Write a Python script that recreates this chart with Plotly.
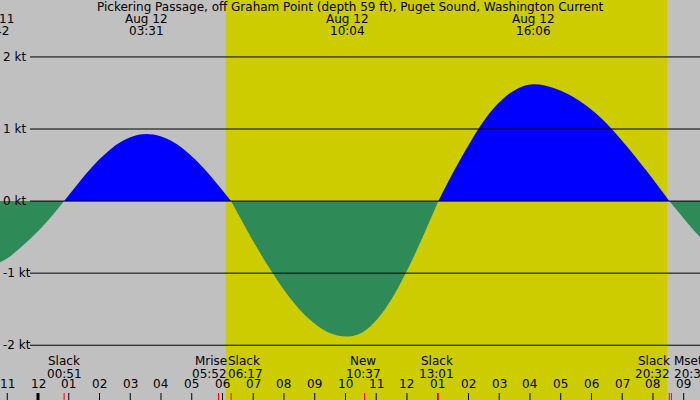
import plotly.graph_objects as go

# current curve, hours since midnight Aug 12 vs knots
ebb1_t = [-3.0, -2.4, -1.24, -0.5, 0.2, 0.85]
ebb1_v = [-0.9, -0.93, -0.85, -0.62, -0.33, 0.0]
flood1_t = [0.85, 1.3, 1.75, 2.2, 2.65, 3.1, 3.52, 3.98, 4.44, 4.9, 5.36, 5.82, 6.28]
flood1_v = [0.0, 0.24, 0.47, 0.66, 0.81, 0.9, 0.93, 0.9, 0.81, 0.66, 0.47, 0.24, 0.0]
ebb2_t = [6.28, 6.91, 7.54, 8.17, 8.8, 9.43, 10.07, 10.56, 11.05, 11.54, 12.03, 12.52, 13.02]
ebb2_v = [0.0, -0.49, -0.94, -1.33, -1.63, -1.82, -1.88, -1.82, -1.63, -1.33, -0.94, -0.49, 0.0]
flood2_t = [13.02, 13.53, 14.05, 14.56, 15.07, 15.59, 16.1, 16.84, 17.58, 18.32, 19.05, 19.79, 20.53]
flood2_v = [0.0, 0.42, 0.81, 1.15, 1.4, 1.56, 1.62, 1.56, 1.4, 1.15, 0.81, 0.42, 0.0]
ebb3_t = [20.53, 21.0, 21.53, 22.2, 23.0]
ebb3_v = [0.0, -0.24, -0.5, -0.78, -1.0]

sunrise, sunset = 6.11, 20.46
peaks = [(3.52, "03:31"), (10.07, "10:04"), (16.1, "16:06")]
events = [(0.85, "Slack", "00:51"), (5.87, "Mrise", "05:52"), (6.28, "Slack", "06:17"),
          (10.62, "New", "10:37"), (13.02, "Slack", "13:01"), (20.53, "Slack", "20:32"),
          (20.6, "Mset", "20:36")]
hour_labels = ["11", "12", "01", "02", "03", "04", "05", "06", "07", "08", "09", "10",
               "11", "12", "01", "02", "03", "04", "05", "06", "07", "08", "09"]
kt_ticks = [2, 1, 0, -1, -2]

X0, X1 = -1.236, 21.53
Y0, Y1 = -2.76, 2.79
font = dict(family="DejaVu Sans", size=12, color="black")


def py(pix):
    # pixel row from the top to paper fraction
    return 1 - pix / 400


fig = go.Figure()
for t, v, c in [(ebb1_t, ebb1_v, "#2e8b57"), (flood1_t, flood1_v, "#0000ff"),
                (ebb2_t, ebb2_v, "#2e8b57"), (flood2_t, flood2_v, "#0000ff"),
                (ebb3_t, ebb3_v, "#2e8b57")]:
    fig.add_trace(go.Scatter(x=t, y=v, mode="lines", line=dict(color=c, width=0, shape="spline"),
                             fill="tozeroy", fillcolor=c, hoverinfo="skip"))

shapes = [dict(type="rect", xref="x", yref="y", x0=sunrise, x1=sunset, y0=Y0, y1=Y1,
               fillcolor="#cccc00", line_width=0, layer="below")]
annotations = []


def txt(x, y, s, xref="x", xanchor="center"):
    annotations.append(dict(x=x, y=y, xref=xref, yref="paper", text=s, showarrow=False,
                            xanchor=xanchor, yanchor="middle", font=font))


for k in kt_ticks:
    shapes.append(dict(type="line", xref="paper", yref="y", x0=30 / 700, x1=1, y0=k, y1=k,
                       line=dict(color="black", width=1)))
    annotations.append(dict(xref="paper", yref="y", x=0.002, y=k, text=f"{k} kt", showarrow=False,
                            xanchor="left", yanchor="middle", font=font))
for i, lab in enumerate(hour_labels):
    h = i - 1
    shapes.append(dict(type="line", xref="x", yref="paper", x0=h, x1=h, y0=0, y1=7 / 400,
                       line=dict(color="black", width=3 if h == 0 else 1)))
    txt(h, py(384), lab)
for t, name, tm in events:
    shapes.append(dict(type="line", xref="x", yref="paper", x0=t, x1=t, y0=0, y1=7 / 400,
                       line=dict(color="red", width=1)))
for t, name, tm in events:
    if name == "Mset":
        ax, xx = "left", t + 0.02
    elif name == "Mrise":
        ax, xx = "right", t + 0.35
    elif name == "Slack" and t > 20:
        ax, xx = "right", t + 0.08
    elif name == "Slack" and 6 < t < 7:
        ax, xx = "left", t - 0.15
    else:
        ax, xx = "center", (t - 0.05 if t > 1 else t)
    txt(xx, py(361), name, xanchor=ax)
    txt(xx, py(374), tm, xanchor=ax)
for t, tm in peaks:
    txt(t, py(19), "Aug 12")
    txt(t, py(31), tm)
txt(-0.005, py(19), "11", xref="paper", xanchor="left")
txt(-0.012, py(31), "42", xref="paper", xanchor="left")
txt(0.5, py(7), "Pickering Passage, off Graham Point (depth 59 ft), Puget Sound, Washington Current",
    xref="paper")

fig.update_layout(width=700, height=400, margin=dict(l=0, r=0, t=0, b=0, autoexpand=False),
                  plot_bgcolor="#c0c0c0", paper_bgcolor="#c0c0c0", showlegend=False,
                  xaxis=dict(range=[X0, X1], visible=False, fixedrange=True),
                  yaxis=dict(range=[Y0, Y1], visible=False, fixedrange=True),
                  shapes=shapes, annotations=annotations)
fig.write_html("out.html", config={"displayModeBar": False},
               post_script="document.body.style.margin='0';")
